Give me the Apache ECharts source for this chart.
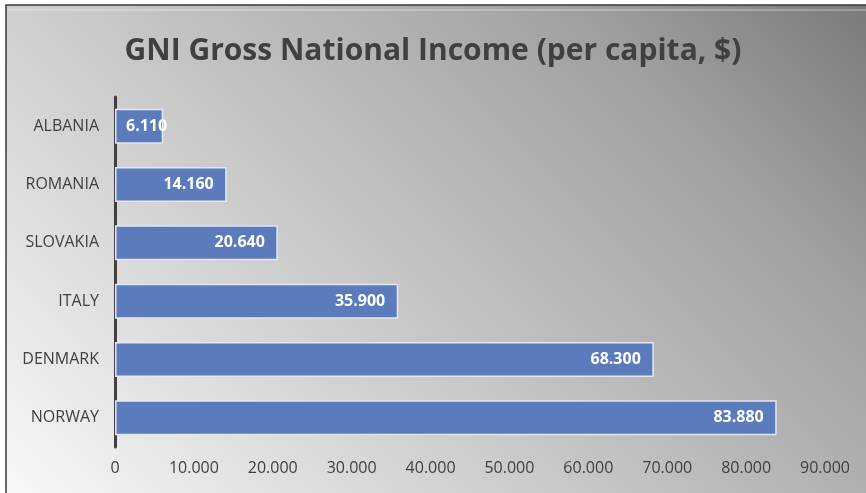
<!DOCTYPE html>
<html>
<head>
<meta charset="utf-8">
<script src="https://cdn.jsdelivr.net/npm/echarts@6/dist/echarts.min.js"></script>
<style>html,body{margin:0;padding:0;background:#fff}#c{width:866px;height:493px}</style>
</head>
<body>
<div id="c"></div>
<script>
const categories = ['ALBANIA', 'ROMANIA', 'SLOVAKIA', 'ITALY', 'DENMARK', 'NORWAY'];
const gniValues = [6110, 14160, 20640, 35900, 68300, 83880];
const tickMax = 90000;
const tickStep = 10000;

function fmt(v) {
  return String(v).replace(/\B(?=(\d{3})+(?!\d))/g, '.');
}

const barData = gniValues.map(v => v < tickStep
  ? { value: v, label: { position: 'insideLeft', distance: 11 } }
  : v);

const chart = echarts.init(document.getElementById('c'));
chart.setOption({
  animation: false,
  graphic: [
    {
      type: 'rect', z: -10, silent: true,
      shape: { x: 6, y: 5, width: 866, height: 493 },
      style: {
        fill: new echarts.graphic.LinearGradient(6, 493, 680, -181, [
          { offset: 0, color: '#f8f8f8' },
          { offset: 0.5, color: '#bfbfbf' },
          { offset: 0.78, color: '#a0a0a0' },
          { offset: 1, color: '#7a7a7a' }
        ], true),
        stroke: '#3a3a3a', lineWidth: 1.5
      }
    },
    {
      type: 'line', z: -9, silent: true,
      shape: { x1: 7, y1: 10, x2: 866, y2: 10 },
      style: { stroke: 'rgba(255,255,255,0.35)', lineWidth: 1.5 }
    }
  ],
  title: {
    text: 'GNI Gross National Income (per capita, $)',
    left: 'center', top: 31,
    textStyle: { fontFamily: 'Open Sans', fontWeight: 'bold', fontSize: 30, color: '#404040' }
  },
  grid: { left: 115, right: 41, top: 97, bottom: 46, containLabel: false },
  xAxis: {
    type: 'value', min: 0, max: tickMax, interval: tickStep,
    axisLine: { show: false }, axisTick: { show: false }, splitLine: { show: false },
    axisLabel: { formatter: fmt, fontFamily: 'Open Sans', fontSize: 16, color: '#404040', margin: 13 }
  },
  yAxis: {
    type: 'category', data: categories, inverse: true,
    axisLine: { show: true, lineStyle: { color: '#404040', width: 3 } },
    axisTick: { show: false },
    axisLabel: { fontFamily: 'Open Sans', fontSize: 16, color: '#404040', margin: 16 }
  },
  series: [{
    type: 'bar', data: barData, barCategoryGap: '40%',
    itemStyle: { color: '#5b7bbd', borderColor: '#e4e8f0', borderWidth: 1.5 },
    label: {
      show: true, position: 'insideRight', distance: 13, formatter: p => fmt(p.value),
      fontFamily: 'Open Sans', fontWeight: 'bold', fontSize: 16, color: '#ffffff'
    }
  }]
});
</script>
</body>
</html>
